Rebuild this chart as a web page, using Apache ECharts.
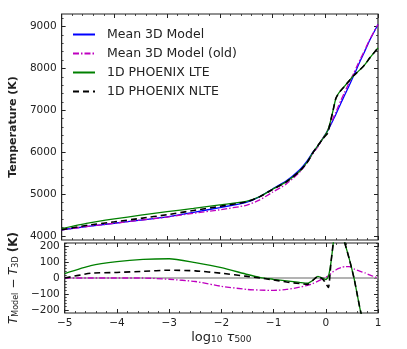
<!DOCTYPE html>
<html>
<head>
<meta charset="utf-8">
<script src="https://cdn.jsdelivr.net/npm/echarts@6/dist/echarts.min.js"></script>
<style>
  html, body { margin: 0; padding: 0; background: #fff; }
  #chart { width: 407px; height: 349px; }
</style>
</head>
<body>
<div id="chart"></div>
<script>
// log10 tau500 grid shared by all curves
var tau = [-5, -4.5, -4, -3.5, -3, -2.5, -2, -1.5, -1.25, -1, -0.75, -0.5, -0.35, -0.25, -0.15, -0.05,
  0, 0.05, 0.1, 0.15, 0.2, 0.25, 0.3, 0.36, 0.45, 0.54, 0.6, 0.66, 0.75, 0.85, 1.0];

// temperatures (K), top panel
var tMean3D = [4145, 4225, 4300, 4375, 4455, 4560, 4675, 4800, 4930, 5120, 5300, 5560, 5780, 5970, 6130, 6320,
  6420, 6520, 6640, 6770, 6900, 7040, 7180, 7340, 7580, 7830, 8000, 8170, 8410, 8690, 9050];
var tMean3DOld = [4145, 4225, 4300, 4375, 4447, 4538, 4623, 4728, 4854, 5042, 5228, 5502, 5734, 5934, 6110, 6317,
  6425, 6534, 6668, 6812, 6952, 7100, 7246, 7412, 7652, 7887, 8050, 8212, 8442, 8708, 9050];
var tLTE = [4173, 4303, 4403, 4492, 4576, 4656, 4740, 4822, 4933, 5112, 5282, 5532, 5747, 5955, 6140, 6317,
  6410, 6530, 6740, 7010, 7280, 7400, 7480, 7565, 7700, 7830, 7900, 7970, 8090, 8260, 8490];
var tNLTE = [4145, 4255, 4335, 4417, 4504, 4605, 4705, 4810, 4930, 5108, 5275, 5525, 5740, 5955, 6140, 6310,
  6385, 6460, 6740, 7010, 7280, 7400, 7480, 7565, 7700, 7830, 7900, 7970, 8090, 8260, 8490];

// T_model - T_3D (K), bottom panel
var dOld = [0, 0, 0, 0, -8, -22, -52, -72, -76, -78, -72, -58, -46, -36, -20, -3,
  5, 14, 28, 42, 52, 60, 66, 72, 72, 57, 50, 42, 32, 18, 0];
var dLTE = [28, 78, 103, 117, 121, 96, 65, 22, 3, -8, -18, -28, -33, -15, 10, -3,
  -10, 10, 100, 240, 380, 360, 300, 225, 120, 0, -100, -200, -320, -430, -560];
var dNLTE = [0, 30, 35, 42, 49, 45, 30, 10, 0, -12, -25, -35, -40, -15, 10, -10,
  -35, -60, 100, 240, 380, 360, 300, 225, 120, 0, -100, -200, -320, -430, -560];
var zeroLine = [[-5, 0], [1, 0]];

// tick positions
var tempMajor = [4000, 5000, 6000, 7000, 8000, 9000];
var tempMinor = [4000, 4200, 4400, 4600, 4800, 5000, 5200, 5400, 5600, 5800, 6000, 6200, 6400, 6600, 6800,
  7000, 7200, 7400, 7600, 7800, 8000, 8200, 8400, 8600, 8800, 9000, 9200];
var diffMajor = [-200, -100, 0, 100, 200];
var diffMinor = [-200, -180, -160, -140, -120, -100, -80, -60, -40, -20, 0, 20, 40, 60, 80, 100,
  120, 140, 160, 180, 200, 220];

var names = ["Mean 3D Model", "Mean 3D Model (old)", "1D PHOENIX LTE", "1D PHOENIX NLTE"];

var FONT = "DejaVu Sans";
var INK = "#222";

var pairs = function (ys) {
  return tau.map(function (t, i) { return [t, ys[i]]; });
};

var xAxisFor = function (grid, pos, labels) {
  return {
    type: "value", gridIndex: grid, position: pos, min: -5, max: 1, interval: 1,
    axisLine: { show: false, onZero: false },
    splitLine: { show: false },
    axisTick: { show: true, inside: true, length: 4, lineStyle: { color: INK, width: 1 } },
    minorTick: { show: true, splitNumber: 5, length: 2, lineStyle: { color: INK, width: 0.8 } },
    axisLabel: {
      show: labels, margin: 5, color: INK, fontFamily: FONT, fontSize: 10.5,
      formatter: function (v) { return String(v).replace("-", "\u2212"); }
    }
  };
};

var yAxisFor = function (grid, pos, min, max, ticks, len, labels) {
  return {
    type: "value", gridIndex: grid, position: pos, min: min, max: max, offset: 0,
    axisLine: { show: false, onZero: false },
    splitLine: { show: false },
    axisTick: { show: true, inside: true, length: len, customValues: ticks, lineStyle: { color: INK, width: len > 3 ? 1 : 0.8 } },
    axisLabel: {
      show: labels, margin: 5, color: INK, fontFamily: FONT, fontSize: 10.5, customValues: ticks,
      formatter: function (v) { return String(v).replace("-", "\u2212"); }
    }
  };
};

var chart = echarts.init(document.getElementById("chart"), null, { renderer: "canvas" });

var yTop = yAxisFor(0, "left", 3900, 9300, tempMajor, 4, true);
yTop.name = "Temperature (K)";
yTop.nameLocation = "middle";
yTop.nameGap = 35;
yTop.nameTextStyle = { fontFamily: FONT, fontSize: 11, fontWeight: "bold", color: INK };

var yBot = yAxisFor(1, "left", -220, 220, diffMajor, 4, true);
yBot.name = "{t|T}{s|Model}{m| \u2212 }{t|T}{s|3D}{k| (K)}";
yBot.nameLocation = "middle";
yBot.nameGap = 33;
yBot.nameTextStyle = {
  fontFamily: FONT, color: INK,
  rich: {
    t: { fontFamily: FONT, fontSize: 12, fontStyle: "italic", color: INK, verticalAlign: "bottom", lineHeight: 16 },
    s: { fontFamily: FONT, fontSize: 8, color: INK, verticalAlign: "bottom", lineHeight: 12 },
    m: { fontFamily: FONT, fontSize: 12, color: INK, verticalAlign: "bottom", lineHeight: 16 },
    k: { fontFamily: FONT, fontSize: 12, fontWeight: "bold", color: INK, verticalAlign: "bottom", lineHeight: 16 }
  }
};

var xBot = xAxisFor(1, "bottom", true);
xBot.name = "{n|log}{s|10}{n| }{t|\u03c4}{s|500}";
xBot.nameLocation = "middle";
xBot.nameGap = 14;
xBot.nameTextStyle = {
  color: INK,
  rich: {
    n: { fontFamily: FONT, fontSize: 13, color: INK, verticalAlign: "bottom", lineHeight: 17 },
    t: { fontFamily: FONT, fontSize: 13, fontStyle: "italic", color: INK, verticalAlign: "bottom", lineHeight: 17 },
    s: { fontFamily: FONT, fontSize: 9, color: INK, verticalAlign: "bottom", lineHeight: 13 }
  }
};

var lineSeries = function (name, data, x, y, color, width, type, z) {
  return {
    name: name, type: "line", xAxisIndex: x, yAxisIndex: y, data: data,
    showSymbol: false, symbol: "none", smooth: 0.2, animation: false, z: z,
    lineStyle: { color: color, width: width, type: type },
    itemStyle: { color: color }
  };
};

var option = {
  backgroundColor: "#fff",
  animation: false,
  grid: [
    { left: 53, right: 29, top: 14, height: 226, show: true, borderColor: INK, borderWidth: 1.2, backgroundColor: "transparent" },
    { left: 53, right: 29, top: 243, height: 70, show: true, borderColor: INK, borderWidth: 1.2, backgroundColor: "transparent" }
  ],
  legend: {
    data: names,
    orient: "vertical",
    left: 67, top: 23,
    itemWidth: 22, itemHeight: 14, itemGap: 6,
    itemStyle: { opacity: 0 },
    textStyle: { fontFamily: FONT, fontSize: 12.5, color: INK, padding: [0, 0, 0, 7] }
  },
  xAxis: [
    xAxisFor(0, "bottom", false),
    xAxisFor(0, "top", false),
    xBot,
    xAxisFor(1, "top", false)
  ],
  yAxis: [
    yTop,
    yAxisFor(0, "left", 3900, 9300, tempMinor, 2, false),
    yAxisFor(0, "right", 3900, 9300, tempMajor, 4, false),
    yAxisFor(0, "right", 3900, 9300, tempMinor, 2, false),
    yBot,
    yAxisFor(1, "left", -220, 220, diffMinor, 2, false),
    yAxisFor(1, "right", -220, 220, diffMajor, 4, false),
    yAxisFor(1, "right", -220, 220, diffMinor, 2, false)
  ],
  series: [
    lineSeries(names[0], pairs(tMean3D), 0, 0, "#0000ff", 1.3, "solid", 2),
    lineSeries(names[1], pairs(tMean3DOld), 0, 0, "#bf00bf", 1.3, [6, 2, 1.5, 2], 3),
    lineSeries(names[2], pairs(tLTE), 0, 0, "#008000", 1.3, "solid", 4),
    lineSeries(names[3], pairs(tNLTE), 0, 0, "#000000", 1.6, [6, 4], 5),
    lineSeries("zero", zeroLine, 2, 4, "#9a9a9a", 1.5, "solid", 1),
    lineSeries(names[1], pairs(dOld), 2, 4, "#bf00bf", 1.3, [6, 2, 1.5, 2], 3),
    lineSeries(names[2], pairs(dLTE), 2, 4, "#008000", 1.3, "solid", 4),
    lineSeries(names[3], pairs(dNLTE), 2, 4, "#000000", 1.6, [6, 4], 5)
  ]
};

chart.setOption(option);
</script>
</body>
</html>
